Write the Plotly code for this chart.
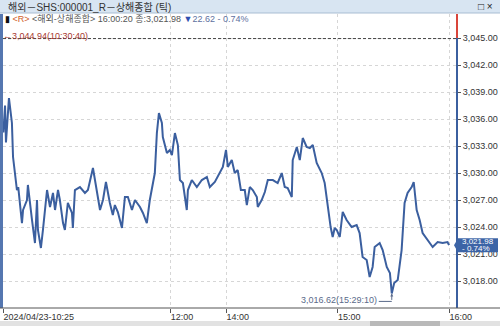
import plotly.graph_objects as go

# ---------------- data (trading minutes since 10:30 KST open; lunch break removed) ----------------
elapsed_min = [0.2, 1.1, 1.6, 2.7, 3.2, 4.2, 4.8, 5.4, 6.5, 7.5, 8.2, 9.1, 10.2, 10.8, 12.9, 13.4, 14.5,
               15.6, 17.2, 18.3,
               18.8, 20.4, 21.5, 23.7, 25.3, 26.9, 28.0, 29.6, 30.6, 32.3, 33.3, 34.9, 37.1, 37.6,
               38.7, 41.4, 44.1, 45.7, 48.4, 50.5, 52.2, 53.8, 55.4, 57.5, 59.1, 60.2, 61.8, 64.0,
               65.6, 67.2, 69.4, 71.0, 73.7, 75.3, 77.4, 79.0, 80.1, 81.7, 82.8, 83.9, 85.5, 86.0,
               88.2, 89.8, 90.9, 92.5, 94.1, 95.2, 96.8, 98.9, 99.5, 101.6, 104.3, 107.0, 109.7,
               111.3, 114.0, 116.7, 118.3, 120.0,
               121.0, 123.1, 124.7, 126.3, 128.0, 130.1, 131.2, 132.8, 134.4, 136.6, 137.1, 139.2,
               140.9, 142.5, 145.2, 147.8, 150.0, 151.6, 153.2, 155.4, 155.9, 158.1, 159.7, 161.3,
               163.4, 165.1, 166.7, 168.8, 171.5, 173.1, 174.7, 176.3, 177.4, 178.5, 179.6, 181.2,
               182.8, 184.9, 187.6, 190.3, 191.9, 193.5, 195.7, 197.3, 198.9, 200.0, 202.7, 204.3,
               206.5, 208.2, 209.2, 210.5, 212.4, 214.5, 216.1, 217.7, 219.9, 221.0, 222.6, 224.2,
               225.8, 228.5, 231.2, 233.9, 236.6, 239.2, 240.0]
price = [3034.50, 3037.50, 3033.40, 3037.20, 3038.33, 3036.60, 3035.56, 3031.78, 3030.00, 3028.11,
         3028.44, 3026.22, 3024.44, 3025.89,
         3027.00, 3028.67, 3027.00, 3024.78, 3022.22, 3027.00, 3023.67, 3021.67, 3023.67, 3028.11,
         3026.22, 3027.78, 3025.89, 3028.11, 3027.00, 3024.44, 3023.67, 3026.67, 3025.56, 3023.89,
         3028.11, 3028.44, 3027.78, 3028.11, 3030.56, 3028.11, 3025.89, 3027.00, 3029.00, 3026.67,
         3025.33, 3026.44, 3025.67, 3023.89, 3027.33, 3027.33, 3025.89, 3027.00, 3026.22, 3025.56,
         3024.44, 3027.00, 3028.44, 3030.00, 3034.44, 3036.67, 3035.56, 3034.00, 3032.22, 3032.56,
         3032.00, 3034.44, 3033.11, 3029.22, 3028.89, 3025.89, 3028.11, 3029.22, 3028.44, 3029.22,
         3029.56, 3028.44, 3029.00, 3030.00, 3030.67, 3032.56,
         3030.67, 3031.44, 3030.00, 3030.33, 3028.11, 3028.11, 3026.44, 3028.44, 3028.11, 3027.33,
         3026.22, 3027.00, 3027.89, 3029.22, 3029.22, 3028.89, 3030.00, 3028.44, 3028.33, 3027.33,
         3031.44, 3032.89, 3031.44, 3033.89, 3032.89, 3032.78, 3033.11, 3031.11, 3030.00, 3028.89,
         3026.22, 3024.00, 3022.89, 3023.89, 3023.67, 3022.89, 3025.67, 3024.78, 3024.00, 3024.22,
         3023.33, 3020.67, 3020.33, 3018.44, 3019.56, 3021.78, 3022.22, 3021.44, 3019.56, 3018.89,
         3016.62, 3017.78, 3018.11, 3021.44, 3026.67, 3027.78, 3028.44, 3029.00, 3025.89, 3024.78,
         3023.33, 3022.56, 3021.78, 3022.33, 3022.22, 3022.33, 3021.98]

tick_pos = [0, 90, 120, 180, 240]
tick_text = ["2024/04/23-10:25", "12:00", "14:00", "15:00", "16:00"]
y_ticks = [3018, 3021, 3024, 3027, 3030, 3033, 3036, 3039, 3042, 3045]

max_price, max_time = 3044.94, "10:30:40"
min_price, min_time, min_pos = 3016.62, "15:29:10", 209.2
last_price, last_chg, last_pct, last_time = 3021.98, 22.62, -0.74, "16:00:20"

# ---------------- layout helpers (pixel -> paper) ----------------
W, H = 500, 326
ML, MR, MT, MB = 3, 43, 14, 18
PW, PH = W - ML - MR, H - MT - MB


def px(x):
    return (x - ML) / PW


def py(y):
    return (H - MB - y) / PH


BLUE = "#3b5f9f"
FONT = "Liberation Sans, Noto Sans CJK KR, sans-serif"

fig = go.Figure()
fig.add_trace(go.Scatter(x=elapsed_min, y=price, mode="lines",
                         line=dict(color=BLUE, width=2), hoverinfo="skip"))

shapes = []
# title bar
shapes.append(dict(type="rect", xref="paper", yref="paper", x0=px(0), x1=px(W), y0=py(13), y1=py(0),
                   fillcolor="#d8e5f2", line=dict(width=0), layer="above"))
shapes.append(dict(type="line", xref="paper", yref="paper", x0=px(0), x1=px(W), y0=py(13), y1=py(13),
                   line=dict(color="#a9bdd3", width=1), layer="above"))
# left blue bar
shapes.append(dict(type="rect", xref="paper", yref="paper", x0=px(0), x1=px(3), y0=0, y1=py(14),
                   fillcolor="#5577b0", line=dict(width=0), layer="above"))
# max line
shapes.append(dict(type="line", xref="paper", yref="y", x0=px(3), x1=1, y0=max_price, y1=max_price,
                   line=dict(color="#444444", width=1, dash="3px,2px"), layer="above"))
# right vertical line (blue below, red top)
shapes.append(dict(type="line", xref="paper", yref="paper", x0=1, x1=1, y0=0, y1=py(38),
                   line=dict(color=BLUE, width=2), layer="above"))
shapes.append(dict(type="line", xref="paper", yref="paper", x0=1, x1=1, y0=py(38), y1=1,
                   line=dict(color="#d9453a", width=2), layer="above"))
# x axis base line across whole width
shapes.append(dict(type="line", xref="paper", yref="paper", x0=px(0), x1=px(W), y0=0, y1=0,
                   line=dict(color="#555555", width=1), layer="above"))
# bottom scrollbar
shapes.append(dict(type="rect", xref="paper", yref="paper", x0=px(0), x1=px(W), y0=py(H), y1=py(321),
                   fillcolor="#e2e2e2", line=dict(width=0), layer="above"))
shapes.append(dict(type="rect", xref="paper", yref="paper", x0=px(370), x1=px(440), y0=py(H), y1=py(321),
                   fillcolor="#b9b9b9", line=dict(width=0), layer="above"))
# min marker connector
shapes.append(dict(type="line", xref="x", yref="y", xsizemode="pixel", ysizemode="pixel",
                   xanchor=min_pos, yanchor=min_price, x0=-13, x1=0, y0=-8, y1=-8,
                   line=dict(color="#5a6a8a", width=1), layer="above"))
# last price box with pointer
shapes.append(dict(type="path", xref="paper", yref="y", xsizemode="pixel", ysizemode="pixel",
                   xanchor=1, yanchor=last_price,
                   path="M 1,7 L 41,7 L 41,-7 L 1,-7 L -3,0 Z",
                   fillcolor="#3c64a6", line=dict(width=0), layer="above"))

annotations = []
annotations.append(dict(xref="paper", yref="paper", x=px(6), y=py(6.5), xanchor="left", yanchor="middle",
                        text="해외－SHS:000001_R－상해종합 (틱)", showarrow=False,
                        font=dict(family=FONT, size=10, color="#333333")))
annotations.append(dict(xref="paper", yref="paper", x=px(476), y=py(6.5), xanchor="left", yanchor="middle",
                        text="□ ×", showarrow=False, font=dict(family=FONT, size=10, color="#222222")))
legend_txt = ("<span style='color:#111'>▮</span> <span style='color:#d0602a'>&lt;R&gt;</span> "
              "<span style='color:#555'>&lt;해외-상해종합&gt; " + last_time + " 종:" + f"{last_price:,.2f}" + "</span> "
              "<span style='color:#2f4fb0'>▼</span><span style='color:#6070a0'>" + f"{last_chg:.2f}" +
              " - " + f"{abs(last_pct):.2f}%" + "</span>")
annotations.append(dict(xref="paper", yref="paper", x=px(3), y=py(18), xanchor="left", yanchor="middle",
                        text=legend_txt, showarrow=False, font=dict(family=FONT, size=9, color="#555")))
annotations.append(dict(xref="paper", yref="y", x=px(1), y=max_price, xanchor="left", yanchor="middle",
                        yshift=3, text="←" + f"{max_price:,.2f}" + "(" + max_time + ")", showarrow=False,
                        font=dict(family=FONT, size=9, color="#a83a32")))
annotations.append(dict(xref="x", yref="y", x=min_pos, y=min_price, text="", showarrow=True,
                        ax=0, ay=8, arrowhead=2, arrowsize=0.6, arrowwidth=1, arrowcolor="#5a6a8a"))
annotations.append(dict(xref="x", yref="y", x=min_pos, y=min_price, xanchor="right", yanchor="middle",
                        xshift=-13, yshift=-7, text=f"{min_price:,.2f}" + "(" + min_time + ")",
                        showarrow=False, font=dict(family=FONT, size=9, color="#5a6a8a")))
annotations.append(dict(xref="paper", yref="y", x=1, y=last_price, xanchor="left", yanchor="middle",
                        xshift=3, yshift=3.5, text=f"{last_price:,.2f}", showarrow=False,
                        font=dict(family=FONT, size=8, color="white")))
annotations.append(dict(xref="paper", yref="y", x=1, y=last_price, xanchor="left", yanchor="middle",
                        xshift=3, yshift=-3.5, text=f"- {abs(last_pct):.2f}%", showarrow=False,
                        font=dict(family=FONT, size=8, color="white")))

fig.update_layout(
    width=W, height=H,
    margin=dict(l=ML, r=MR, t=MT, b=MB),
    paper_bgcolor="white", plot_bgcolor="white",
    showlegend=False,
    shapes=shapes, annotations=annotations,
    xaxis=dict(range=[0, 244.3], tickvals=tick_pos, ticktext=tick_text,
               ticks="outside", ticklen=4, tickcolor="#555555", ticklabelposition="outside right",
               tickfont=dict(family=FONT, size=9, color="#333333"),
               showgrid=True, gridcolor="#d6d6d6", griddash="dot", gridwidth=1,
               showline=False, zeroline=False, fixedrange=True),
    yaxis=dict(side="right", range=[3015.0, 3047.67], tickvals=y_ticks, tickformat=",.2f",
               ticks="outside", ticklen=3, tickcolor="#555555",
               tickfont=dict(family=FONT, size=9, color="#333333"),
               showgrid=True, gridcolor="#d6d6d6", griddash="dot", gridwidth=1,
               showline=False, zeroline=False, fixedrange=True),
)

fig.write_html("out.html", config={"displayModeBar": False})
